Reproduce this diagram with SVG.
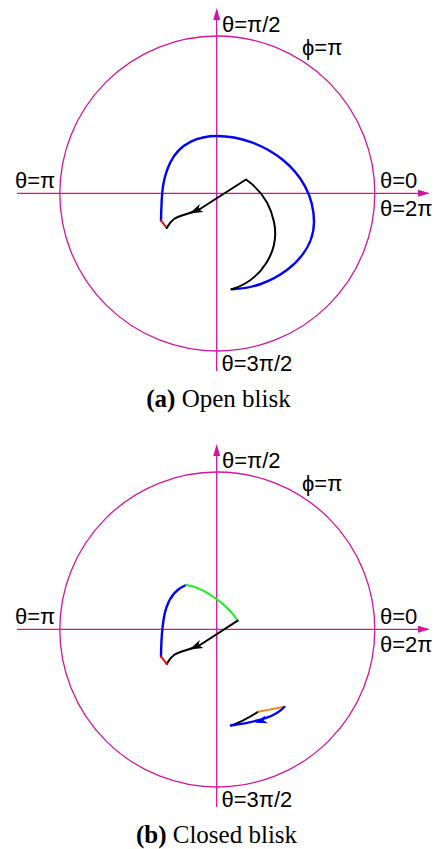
<svg xmlns="http://www.w3.org/2000/svg" width="434" height="849" viewBox="0 0 434 849">
<style>
.ax{stroke:#d0169a;stroke-width:1.3;fill:none}
.circ{stroke:#d0169a;stroke-width:1.3;fill:none}
.axh{fill:#d0169a;stroke:none}
.lbl{font-family:"Liberation Sans",Arial,"DejaVu Sans",sans-serif;font-size:22px;fill:#000}
.cap{font-family:"Liberation Serif","Times New Roman",serif;font-size:25px;fill:#000}
.c{fill:none;stroke-linecap:round;stroke-linejoin:round}
.bk{stroke:#000;stroke-width:2}
.bl{stroke:#0000ff;stroke-width:2.4}
.rd{stroke:#ff0000;stroke-width:2}
.gn{stroke:#22ee22;stroke-width:2}
.or{stroke:#f08a20;stroke-width:2}
</style>
<rect width="434" height="849" fill="#fff"/>
<g id="panel-a">
  <g id="axes-a">
    <circle class="circ" cx="217.3" cy="193.5" r="157.5"/>
    <line class="ax" x1="216.7" y1="19" x2="216.7" y2="371"/>
    <polygon class="axh" points="216.7,8 213.2,20 220.2,20"/>
    <line class="ax" x1="17" y1="193.3" x2="419" y2="193.3"/>
    <polygon class="axh" points="430,193.3 418,189.8 418,196.8"/>
    <text class="lbl" x="222" y="32">θ=π/2</text>
    <text class="lbl" x="302" y="54.5">ϕ=π</text>
    <text class="lbl" x="15" y="188">θ=π</text>
    <text class="lbl" x="380" y="187.5">θ=0</text>
    <text class="lbl" x="380" y="215.5">θ=2π</text>
    <text class="lbl" x="221.5" y="370.5">θ=3π/2</text>
  </g>
  <g id="trajectory-a">
    <path class="c bl" d="M161,220.5 C161.5,195 162,180 170,163 C180,142 200,136 217,136 C262,136 314,170 314,222 C314,260 270,289 231.7,289.3"/>
    <path class="c rd" d="M161,220.5 L166.7,228"/>
    <path class="c bk" d="M231.7,289.3 C262,280 280,250 274,222 C270,202 258,188 246,179.5 L200,209 C190,214 180,215 174,219 C170,222 168,226 166.7,228"/>
    <polygon fill="#000" points="189.5,213.6 199.8,204.1 198.4,209.3 203.4,211.9"/>
  </g>
  <text class="cap" x="218.5" y="406.5" text-anchor="middle"><tspan font-weight="bold">(a)</tspan> Open blisk</text>
</g>
<g id="panel-b" transform="translate(0,436)">
  <g id="axes-b">
    <circle class="circ" cx="217.3" cy="193.5" r="157.5"/>
    <line class="ax" x1="216.7" y1="19" x2="216.7" y2="371"/>
    <polygon class="axh" points="216.7,8 213.2,20 220.2,20"/>
    <line class="ax" x1="17" y1="193.3" x2="419" y2="193.3"/>
    <polygon class="axh" points="430,193.3 418,189.8 418,196.8"/>
    <text class="lbl" x="222" y="32">θ=π/2</text>
    <text class="lbl" x="302" y="54.5">ϕ=π</text>
    <text class="lbl" x="15" y="188">θ=π</text>
    <text class="lbl" x="380" y="187.5">θ=0</text>
    <text class="lbl" x="380" y="215.5">θ=2π</text>
    <text class="lbl" x="221.5" y="370.5">θ=3π/2</text>
  </g>
  <g id="trajectory-b">
    <path class="c bl" d="M161,220.5 C161.5,179 166,157 186,149"/>
    <path class="c gn" d="M186,149 C199,150 225,165 237.7,184.7"/>
    <path class="c bk" d="M237.7,184.7 L200,209 C190,214 180,215 174,219 C170,222 168,226 166.7,228"/>
    <path class="c rd" d="M161,220.5 L166.7,228"/>
    <polygon fill="#000" points="189.5,213.6 199.8,204.1 198.4,209.3 203.4,211.9"/>
  </g>
  <g id="loop-b">
    <path class="c bk" d="M231,289.5 C242,286 250,281 258.3,275.7"/>
    <path class="c or" d="M258.3,275.7 L284.3,270.8"/>
    <path class="c bl" d="M284.3,271 C276,280 262,285 231,289.5"/>
    <polygon fill="#0000ff" points="255,286.8 265.4,279.4 263.5,284.2 268,287.3"/>
  </g>
  <text class="cap" x="216.5" y="406.5" text-anchor="middle"><tspan font-weight="bold">(b)</tspan> Closed blisk</text>
</g>
</svg>
